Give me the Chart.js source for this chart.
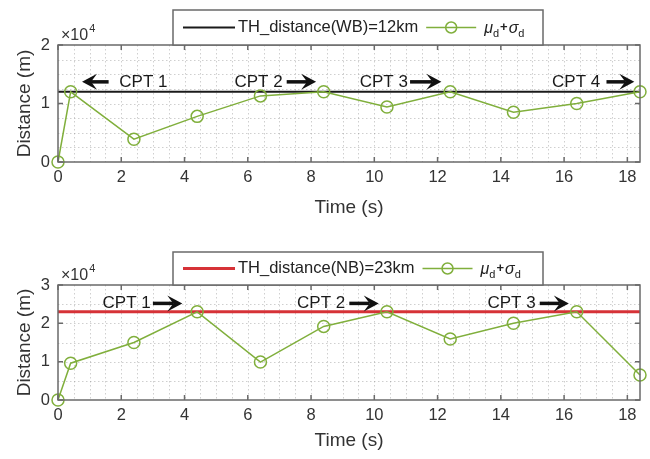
<!DOCTYPE html>
<html><head><meta charset="utf-8">
<script src="https://cdn.jsdelivr.net/npm/chart.js@4/dist/chart.umd.min.js"></script>
<style>
html,body{margin:0;padding:0;background:#fff;}
canvas{position:absolute;left:0;}
#c1{top:0;}
#c2{top:230px;}
</style></head><body>
<canvas id="c1" width="650" height="230"></canvas>
<canvas id="c2" width="650" height="229"></canvas>
<script>
// ---------------- data ----------------
const timeValues = [0, 0.4, 2.4, 4.4, 6.4, 8.4, 10.4, 12.4, 14.4, 16.4, 18.4];
const wbDistance = [0, 12000, 3900, 7800, 11300, 12000, 9400, 12000, 8500, 10000, 12000];
const nbDistance = [0, 9600, 15000, 23000, 9900, 19200, 23000, 15900, 20000, 23000, 6500];
const wbThreshold = 12000;
const nbThreshold = 23000;
const wbThresholdLabel = 'TH_distance(WB)=12km';
const nbThresholdLabel = 'TH_distance(NB)=23km';
const xAxisTitle = 'Time (s)';
const yAxisTitle = 'Distance (m)';
const wbYMax = 20000;
const nbYMax = 30000;
const xMax = 18.4;
// CPT annotations: label text, text centre (s), arrow from/to (s), height (m)
const wbCptNames = ['CPT 1', 'CPT 2', 'CPT 3', 'CPT 4'];
const wbCptTextX = [2.7, 6.34, 10.3, 16.38];
const wbCptArrowFrom = [1.6, 7.23, 11.13, 17.34];
const wbCptArrowTo = [0.76, 8.16, 12.12, 18.22];
const wbCptY = 13700;
const nbCptNames = ['CPT 1', 'CPT 2', 'CPT 3'];
const nbCptTextX = [2.17, 8.32, 14.34];
const nbCptArrowFrom = [3.0, 9.21, 15.23];
const nbCptArrowTo = [3.93, 10.14, 16.15];
const nbCptY = 25200;

Chart.defaults.font.family = '"Liberation Sans", Arial, Helvetica, sans-serif';
Chart.defaults.color = '#333';

const GREEN = 'rgb(128,175,60)';
const FONT = '"Liberation Sans", Arial, Helvetica, sans-serif';

function drawArrow(ctx, x0, x1, y) {
  const dir = Math.sign(x1 - x0);
  const headLen = 15, headHalf = 8, shaft = 3.5;
  const notchX = x1 - dir * headLen * 0.6;
  ctx.fillStyle = '#111';
  ctx.fillRect(Math.min(x0, notchX), y - shaft / 2, Math.abs(notchX - x0), shaft);
  ctx.beginPath();
  ctx.moveTo(x1, y);
  ctx.lineTo(x1 - dir * headLen, y - headHalf);
  ctx.lineTo(notchX, y);
  ctx.lineTo(x1 - dir * headLen, y + headHalf);
  ctx.closePath();
  ctx.fill();
}

const framePlugin = {
  id: 'frame',
  beforeDatasetsDraw(chart, args, o) {
    const {ctx, chartArea: a, scales: {x, y}} = chart;
    ctx.save();
    ctx.strokeStyle = 'rgba(140,140,140,0.42)';
    ctx.lineWidth = 1;
    ctx.setLineDash([1.5, 2.5]);
    for (let v = o.xGridStep; v < x.max - 1e-6; v += o.xGridStep) {
      const px = Math.round(x.getPixelForValue(v)) + 0.5;
      ctx.beginPath(); ctx.moveTo(px, a.top); ctx.lineTo(px, a.bottom); ctx.stroke();
    }
    for (let v = o.yGridStep; v < y.max - 1e-6; v += o.yGridStep) {
      const py = Math.round(y.getPixelForValue(v)) + 0.5;
      ctx.beginPath(); ctx.moveTo(a.left, py); ctx.lineTo(a.right, py); ctx.stroke();
    }
    ctx.restore();
  },
  afterDatasetsDraw(chart, args, o) {
    const {ctx, chartArea: a, scales: {x, y}} = chart;
    ctx.save();
    ctx.strokeStyle = '#6a6a6a';
    ctx.lineWidth = 1.5;
    ctx.strokeRect(a.left, a.top, a.right - a.left, a.bottom - a.top);
    const tl = 5;
    ctx.beginPath();
    x.ticks.forEach(t => {
      const px = x.getPixelForValue(t.value);
      ctx.moveTo(px, a.bottom); ctx.lineTo(px, a.bottom - tl);
      ctx.moveTo(px, a.top); ctx.lineTo(px, a.top + tl);
    });
    y.ticks.forEach(t => {
      const py = y.getPixelForValue(t.value);
      ctx.moveTo(a.left, py); ctx.lineTo(a.left + tl, py);
      ctx.moveTo(a.right, py); ctx.lineTo(a.right - tl, py);
    });
    ctx.stroke();
    ctx.restore();
  },
  afterDraw(chart, args, o) {
    const {ctx, chartArea: a, scales: {x, y}} = chart;
    ctx.save();
    // exponent label
    ctx.fillStyle = '#333';
    ctx.textBaseline = 'alphabetic';
    ctx.font = '16px ' + FONT;
    ctx.fillText('\u00d710', a.left + 3, a.top - 5);
    const w10 = ctx.measureText('\u00d710').width;
    ctx.font = '11px ' + FONT;
    ctx.fillText('4', a.left + 3 + w10 + 1, a.top - 13);

    // legend
    const L = o.legend;
    ctx.fillStyle = '#fff';
    ctx.fillRect(L.left, L.top, L.width, L.height);
    ctx.strokeStyle = '#6a6a6a';
    ctx.lineWidth = 1.5;
    ctx.strokeRect(L.left, L.top, L.width, L.height);
    const cy = L.top + L.height / 2;
    ctx.strokeStyle = L.color; ctx.lineWidth = L.lineWidth;
    ctx.beginPath(); ctx.moveTo(L.left + 10, cy); ctx.lineTo(L.left + 62, cy); ctx.stroke();
    ctx.fillStyle = '#222';
    ctx.font = '16.5px ' + FONT;
    ctx.textBaseline = 'middle';
    ctx.fillText(L.text, L.left + 65, cy);
    let sx = L.left + 65 + ctx.measureText(L.text).width + 8;
    ctx.strokeStyle = GREEN; ctx.lineWidth = 1.5;
    ctx.beginPath(); ctx.moveTo(sx, cy); ctx.lineTo(sx + 50, cy); ctx.stroke();
    ctx.beginPath(); ctx.arc(sx + 25, cy, 5.5, 0, Math.PI * 2); ctx.stroke();
    sx += 58;
    ctx.fillStyle = '#222';
    ctx.textBaseline = 'alphabetic';
    const base = cy + 5;
    ctx.font = 'italic 16px ' + FONT; ctx.fillText('\u03bc', sx, base); sx += ctx.measureText('\u03bc').width;
    ctx.font = '11px ' + FONT; ctx.fillText('d', sx, base + 4); sx += ctx.measureText('d').width + 1;
    ctx.font = 'bold 13px ' + FONT; ctx.fillText('+', sx, base - 2); sx += ctx.measureText('+').width + 1;
    ctx.font = 'italic 16px ' + FONT; ctx.fillText('\u03c3', sx, base); sx += ctx.measureText('\u03c3').width;
    ctx.font = '11px ' + FONT; ctx.fillText('d', sx, base + 4);

    // CPT annotations
    ctx.font = '17px ' + FONT;
    ctx.textAlign = 'center';
    ctx.textBaseline = 'middle';
    const py = y.getPixelForValue(o.cpt.y);
    o.cpt.names.forEach((n, i) => {
      ctx.fillStyle = '#1a1a1a';
      ctx.fillText(n, x.getPixelForValue(o.cpt.textX[i]), py);
      drawArrow(ctx, x.getPixelForValue(o.cpt.from[i]), x.getPixelForValue(o.cpt.to[i]), py);
    });
    ctx.restore();
  }
};

function makeChart(id, values, threshold, thColor, thWidth, thLabel, yMax, yGridStep, padTop, xScaleH, titlePadBottom, legendTop, legendH, cpt) {
  const pts = timeValues.map((t, i) => ({x: t, y: values[i]}));
  const th = [{x: 0, y: threshold}, {x: xMax, y: threshold}];
  return new Chart(document.getElementById(id), {
    type: 'line',
    data: {
      datasets: [
        {label: '\u03bc_d+\u03c3_d', data: pts, borderColor: GREEN, borderWidth: 1.5,
         pointRadius: 6, pointBorderWidth: 1.5, pointBorderColor: GREEN,
         pointBackgroundColor: 'rgba(0,0,0,0)', tension: 0, clip: false},
        {label: thLabel, data: th, borderColor: thColor, borderWidth: thWidth, pointRadius: 0, tension: 0}
      ]
    },
    options: {
      responsive: false,
      devicePixelRatio: 1,
      animation: false,
      events: [],
      layout: {padding: {top: padTop, right: 10, left: 0, bottom: 0}},
      plugins: {
        legend: {display: false},
        tooltip: {enabled: false},
        frame: {
          xGridStep: 0.5, yGridStep: yGridStep,
          legend: {left: 173, top: legendTop, width: 370, height: legendH, color: thColor, lineWidth: thWidth, text: thLabel},
          cpt: cpt
        }
      },
      scales: {
        x: {
          type: 'linear', min: 0, max: xMax,
          afterFit: s => { s.height = xScaleH; },
          grid: {display: false, drawTicks: false},
          border: {display: false},
          ticks: {stepSize: 2, includeBounds: false, autoSkip: false, maxRotation: 0, padding: 6,
                  font: {size: 16.5}, color: '#333'},
          title: {display: true, text: xAxisTitle, font: {size: 19}, color: '#333',
                  padding: {top: 0, bottom: titlePadBottom}}
        },
        y: {
          type: 'linear', min: 0, max: yMax,
          afterFit: s => { s.width = 58; },
          grid: {display: false, drawTicks: false},
          border: {display: false},
          ticks: {stepSize: 10000, padding: 8, font: {size: 16.5}, color: '#333',
                  callback: v => String(v / 10000)},
          title: {display: true, text: yAxisTitle, font: {size: 19}, color: '#333',
                  padding: {top: 13, bottom: 0}}
        }
      }
    },
    plugins: [framePlugin]
  });
}

makeChart('c1', wbDistance, wbThreshold, '#1a1a1a', 2, wbThresholdLabel, wbYMax, 2500, 45, 68, 11, 10, 35,
  {names: wbCptNames, textX: wbCptTextX, from: wbCptArrowFrom, to: wbCptArrowTo, y: wbCptY});
makeChart('c2', nbDistance, nbThreshold, 'rgb(214,50,55)', 3, nbThresholdLabel, nbYMax, 5000, 55, 59, 7, 22, 33,
  {names: nbCptNames, textX: nbCptTextX, from: nbCptArrowFrom, to: nbCptArrowTo, y: nbCptY});
</script>
</body></html>
